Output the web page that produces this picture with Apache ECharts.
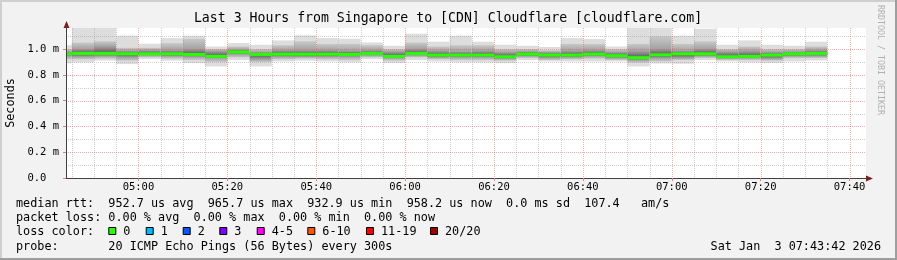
<!DOCTYPE html>
<html><head><meta charset="utf-8">
<script src="https://cdn.jsdelivr.net/npm/echarts@6/dist/echarts.min.js"></script>
<style>html,body{margin:0;padding:0;background:#f2f2f2}#c{width:897px;height:260px}</style>
</head><body><div id="c"></div>
<script>
// ---- data (values in ms, shown as "m" = milliseconds of seconds) ----
const stepStart = ["04:40","04:45","04:50","04:55","05:00","05:05","05:10","05:15","05:20","05:25",
  "05:30","05:35","05:40","05:45","05:50","05:55","06:00","06:05","06:10","06:15",
  "06:20","06:25","06:30","06:35","06:40","06:45","06:50","06:55","07:00","07:05",
  "07:10","07:15","07:20","07:25","07:30"];
const pingMax    = [1.030,1.170,1.170,1.103,1.041,1.085,1.103,1.020,1.046,1.033,1.067,1.106,1.085,1.080,1.051,1.025,1.119,1.057,1.103,1.057,1.033,1.025,1.016,1.085,1.077,1.020,1.170,1.170,1.103,1.157,1.033,1.067,1.033,1.025,1.057];
const pingHi     = [1.000,1.050,1.060,1.010,1.010,1.046,1.080,1.000,1.020,1.000,1.030,1.060,1.040,1.040,1.030,1.000,1.050,1.020,1.030,1.030,1.000,1.000,0.990,1.040,1.040,1.000,1.040,1.100,1.040,1.060,1.000,1.020,1.000,1.000,1.020];
const pingCoreHi = [0.980,1.000,1.020,0.985,0.990,0.990,1.000,0.985,0.995,0.975,0.990,0.990,0.990,0.985,0.990,0.980,1.000,0.985,0.980,0.985,0.975,0.980,0.975,0.985,0.990,0.975,0.985,1.000,0.985,1.000,0.980,0.985,0.975,0.980,0.990];
const medianRtt  = [0.963,0.966,0.966,0.963,0.963,0.963,0.958,0.943,0.977,0.958,0.960,0.960,0.960,0.958,0.966,0.943,0.966,0.953,0.953,0.953,0.940,0.961,0.953,0.953,0.961,0.948,0.933,0.955,0.963,0.963,0.940,0.943,0.953,0.963,0.966];
const pingCoreLo = [0.945,0.940,0.945,0.935,0.950,0.945,0.940,0.930,0.960,0.920,0.940,0.940,0.940,0.940,0.950,0.930,0.950,0.935,0.935,0.935,0.925,0.945,0.930,0.935,0.945,0.930,0.915,0.930,0.930,0.945,0.930,0.930,0.925,0.945,0.945];
const pingLo     = [0.920,0.920,0.925,0.910,0.935,0.925,0.915,0.900,0.935,0.900,0.920,0.925,0.920,0.915,0.935,0.910,0.935,0.920,0.915,0.915,0.910,0.930,0.915,0.920,0.925,0.915,0.895,0.905,0.915,0.930,0.915,0.915,0.910,0.930,0.930];
const pingMin    = [0.890,0.896,0.910,0.883,0.922,0.909,0.891,0.865,0.915,0.865,0.904,0.909,0.904,0.896,0.922,0.891,0.915,0.904,0.896,0.896,0.891,0.915,0.904,0.904,0.904,0.904,0.865,0.888,0.886,0.915,0.904,0.896,0.891,0.904,0.911];

const xTickLabels = ["05:00","05:20","05:40","06:00","06:20","06:40","07:00","07:20","07:40"];
const yMajorTicks = [0, 0.2, 0.4, 0.6, 0.8, 1.0];
const yMinorTicks = [0.1, 0.3, 0.5, 0.7, 0.9, 1.1];
const lossLabels = ["0","1","2","3","4-5","6-10","11-19","20/20"];
const lossColors = ["#26ff00","#00b8ff","#0059ff","#7e00ff","#ff00ff","#ff5500","#ff0000","#a10000"];
const timeStart = "04:43:42", timeEnd = "07:43:42";
const STEP = 300;

function hm(s){const p=s.split(':').map(Number);return p[0]*3600+p[1]*60+(p[2]||0);}
const START = hm(timeStart), END = hm(timeEnd);
const YMAX = 1.163;

const smoke = stepStart.map((t,i)=>[hm(t), hm(t)+STEP, pingMax[i], pingHi[i], pingCoreHi[i], medianRtt[i], pingCoreLo[i], pingLo[i], pingMin[i]]);

// grid line positions
const xMajor = xTickLabels.map(hm);
const xMinor = [];
for (let t = Math.ceil(START/STEP)*STEP; t < END; t += STEP) if (xMajor.indexOf(t) < 0) xMinor.push(t);
const vLines = xMinor.map(t=>[t,0,0]).concat(xMajor.map(t=>[t,0,1]));
const hLines = yMinorTicks.map(v=>[START,v,0]).concat(yMajorTicks.filter(v=>v>0).map(v=>[START,v,1]));

const MONO = '"DejaVu Sans Mono", monospace';
const chart = echarts.init(document.getElementById('c'), null, {renderer:'canvas'});

function fmtY(v){ return v === 0 ? '0.0  ' : v.toFixed(1) + ' m'; }
function fmtX(v){ const h=Math.floor(v/3600), m=Math.floor((v%3600)/60); return String(h).padStart(2,'0')+':'+String(m).padStart(2,'0'); }

const legendFont = {fontFamily: MONO, fontSize: 11.8, fill: '#000', textVerticalAlign: 'middle'};
function txt(x, y, s, extra){ return {type:'text', x:x, y:y, style: Object.assign({text:s}, legendFont, extra||{}), z:100}; }

const graphics = [
  {type:'rect', shape:{x:0,y:0,width:897,height:2}, style:{fill:'#cfcfcf'}, z:100},
  {type:'rect', shape:{x:0,y:0,width:2,height:260}, style:{fill:'#cfcfcf'}, z:100},
  {type:'rect', shape:{x:0,y:258,width:897,height:2}, style:{fill:'#9e9e9e'}, z:100},
  {type:'rect', shape:{x:895,y:0,width:2,height:260}, style:{fill:'#9e9e9e'}, z:100},
  txt(448, 19, 'Last 3 Hours from Singapore to [CDN] Cloudflare [cloudflare.com]', {fontSize:13.2, textAlign:'center'}),
  {type:'text', x:11, y:103, rotation: Math.PI/2, style:Object.assign({text:'Seconds', textAlign:'center'}, legendFont), z:100},
  {type:'text', x:880, y:60, rotation: -Math.PI/2, style:{text:'RRDTOOL / TOBI OETIKER', fontFamily: MONO, fontSize: 8.3, fill:'#b0b0b0', textAlign:'center', textVerticalAlign:'middle'}, z:100},
  {type:'polygon', shape:{points:[[66.5,21],[63.5,28],[69.5,28]]}, style:{fill:'#7f1f1f'}, z:100},
  {type:'polygon', shape:{points:[[873,178.5],[866,175.5],[866,181.5]]}, style:{fill:'#7f1f1f'}, z:100},
  txt(16, 203.8, 'median rtt:  952.7 us avg  965.7 us max  932.9 us min  958.2 us now  0.0 ms sd  107.4   am/s'),
  txt(16, 218.1, 'packet loss: 0.00 % avg  0.00 % max  0.00 % min  0.00 % now'),
  txt(16, 232.3, 'loss color:'),
  txt(16, 246.5, 'probe:       20 ICMP Echo Pings (56 Bytes) every 300s'),
  txt(881, 246.5, 'Sat Jan  3 07:43:42 2026', {textAlign:'right'})
];
const boxX = [108.3, 145.7, 182.7, 219.3, 256.7, 307.3, 366, 430];
lossLabels.forEach((l,i)=>{
  graphics.push({type:'rect', shape:{x:boxX[i]+0.5, y:227.5, width:7, height:7}, style:{fill:lossColors[i], stroke:'#000', lineWidth:1}, z:100});
  graphics.push(txt(boxX[i]+15, 232.3, l));
});

function clamp01(v){ return Math.max(0, Math.min(1, v)); }

chart.setOption({
  animation:false,
  backgroundColor:'#f2f2f2',
  grid:{left:66, top:28, width:800, height:150, show:true, backgroundColor:'#ffffff', borderWidth:0},
  xAxis:{type:'value', min:START, max:END, z:10,
    axisLine:{show:true, lineStyle:{color:'#404040', width:1}},
    axisTick:{show:true, customValues:xMajor, length:3, lineStyle:{color:'#e08080'}},
    axisLabel:{customValues:xMajor, formatter:fmtX, fontFamily:MONO, fontSize:10.5, color:'#000', margin:9, verticalAlign:'middle'},
    splitLine:{show:false}},
  yAxis:{type:'value', min:0, max:YMAX, z:10,
    axisLine:{show:true, lineStyle:{color:'#404040', width:1}},
    axisTick:{show:true, customValues:yMajorTicks, length:3, lineStyle:{color:'#e08080'}},
    axisLabel:{customValues:yMajorTicks, formatter:fmtY, fontFamily:MONO, fontSize:10.5, color:'#000', margin:7},
    splitLine:{show:false}},
  graphic: graphics,
  series:[
    {type:'custom', name:'smoke', data:smoke, clip:true, z:2, encode:{x:[0,1], y:[2,8]},
      renderItem:function(params, api){
        const t0=api.value(0), t1=api.value(1);
        const yOf=v=>api.coord([t0,v])[1];
        const x0=api.coord([t0,0])[0], x1=api.coord([t1,0])[0];
        const yMaxP=yOf(api.value(2)), yHi=yOf(api.value(3)), yCH=yOf(api.value(4)), yMed=yOf(api.value(5)),
              yCL=yOf(api.value(6)), yLo=yOf(api.value(7)), yMinP=yOf(api.value(8));
        const h=yLo-yHi;
        const f=y=>clamp01((y-yHi)/h);
        const grad = new echarts.graphic.LinearGradient(0,0,0,1,[
          {offset:0, color:'#c9c9c9'},
          {offset:f(yCH), color:'#a2a2a2'},
          {offset:clamp01(f(yMed)-0.02), color:'#5c5c5c'},
          {offset:clamp01(f(yMed)+0.02), color:'#5c5c5c'},
          {offset:f(yCL), color:'#a2a2a2'},
          {offset:1, color:'#c9c9c9'}
        ]);
        return {type:'group', children:[
          {type:'rect', shape:{x:x0, y:yMaxP, width:x1-x0, height:yMinP-yMaxP}, style:{fill:'#dddddd'}},
          {type:'rect', shape:{x:x0, y:yHi, width:x1-x0, height:h}, style:{fill:grad}},
          {type:'rect', shape:{x:x0, y:yMed-1.5, width:x1-x0, height:3}, style:{fill:'#26ff00'}}
        ]};
      }},
    {type:'custom', name:'vgrid', data:vLines, z:3, silent:true, encode:{x:0, y:1},
      renderItem:function(params, api){
        const cs=params.coordSys; const p=api.coord([api.value(0), 0]); const x=Math.round(p[0])+0.5;
        return {type:'line', shape:{x1:x, y1:cs.y, x2:x, y2:cs.y+cs.height},
          style:{stroke: api.value(2) ? 'rgba(255,60,60,0.42)' : 'rgba(140,140,140,0.42)', lineWidth:1, lineDash:[1,1]}};
      }},
    {type:'custom', name:'hgrid', data:hLines, z:3, silent:true, encode:{x:0, y:1},
      renderItem:function(params, api){
        const cs=params.coordSys; const p=api.coord([START, api.value(1)]); const y=Math.round(p[1])+0.5;
        return {type:'line', shape:{x1:cs.x, y1:y, x2:cs.x+cs.width, y2:y},
          style:{stroke: api.value(2) ? 'rgba(255,60,60,0.42)' : 'rgba(140,140,140,0.42)', lineWidth:1, lineDash:[1,1]}};
      }}
  ]
});
</script></body></html>
